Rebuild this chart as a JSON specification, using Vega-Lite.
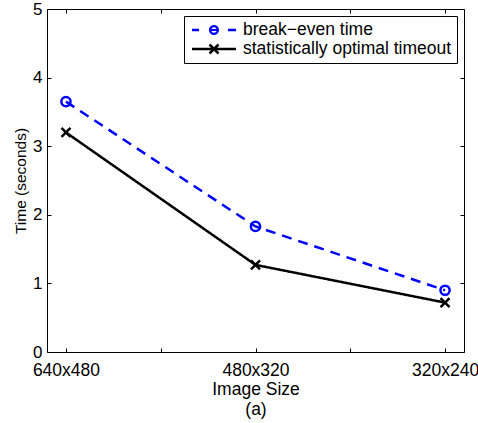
{
  "$schema": "https://vega.github.io/schema/vega-lite/v6.json",
  "autosize": "none",
  "width": 417,
  "height": 343,
  "padding": {"left": 47, "top": 9, "right": 14, "bottom": 71},
  "background": "white",
  "config": {
    "view": {"stroke": "#000", "strokeWidth": 1},
    "font": "Liberation Sans",
    "axis": {
      "domain": false,
      "grid": false,
      "ticks": true,
      "tickSize": -4,
      "tickColor": "#000",
      "tickWidth": 1,
      "labelColor": "#000",
      "labelFont": "Liberation Sans",
      "labelFontSize": 17,
      "titleFont": "Liberation Sans",
      "titleColor": "#000",
      "titleFontWeight": "normal"
    }
  },
  "data": {
    "values": [
      {"size": "640x480", "idx": 1, "series": "break-even time", "time": 3.65},
      {"size": "480x320", "idx": 2, "series": "break-even time", "time": 1.83},
      {"size": "320x240", "idx": 3, "series": "break-even time", "time": 0.9},
      {"size": "640x480", "idx": 1, "series": "statistically optimal timeout", "time": 3.2},
      {"size": "480x320", "idx": 2, "series": "statistically optimal timeout", "time": 1.27},
      {"size": "320x240", "idx": 3, "series": "statistically optimal timeout", "time": 0.72}
    ]
  },
  "resolve": {"axis": {"x": "independent", "y": "independent"}},
  "layer": [
    {
      "mark": {"type": "line", "strokeWidth": 2.5},
      "encoding": {
        "x": {
          "field": "idx", "type": "quantitative",
          "scale": {"domain": [0.9, 3.1], "nice": false, "zero": false},
          "axis": {
            "orient": "bottom",
            "values": [1, 1.5, 2, 2.5, 3],
            "labelExpr": "datum.value == 1 ? '640x480' : datum.value == 2 ? '480x320' : datum.value == 3 ? '320x240' : ''",
            "labelFontSize": 17.5,
            "labelPadding": 13,
            "labelFlush": false,
            "labelOverlap": false,
            "title": ["Image Size", "(a)"],
            "titleFontSize": 17.5,
            "titleLineHeight": 20,
            "titlePadding": 2
          }
        },
        "y": {
          "field": "time", "type": "quantitative",
          "scale": {"domain": [0, 5], "nice": false, "zero": true},
          "axis": {
            "orient": "left",
            "values": [0, 1, 2, 3, 4, 5],
            "labelPadding": 9,
            "labelFlush": false,
            "title": "Time (seconds)",
            "titleFontSize": 15.5,
            "titlePadding": 4
          }
        },
        "color": {
          "field": "series", "type": "nominal",
          "scale": {"domain": ["break-even time", "statistically optimal timeout"], "range": ["#0000ff", "#000000"]},
          "legend": {
            "title": null,
            "orient": "top-right",
            "offset": 7,
            "padding": 5,
            "strokeColor": "#000",
            "fillColor": "#fff",
            "labelFont": "Liberation Sans",
            "labelFontSize": 17.5,
            "labelColor": "#000",
            "labelLimit": 0,
            "labelOffset": 36,
            "labelExpr": "replace(datum.label, 'break-even', 'break\u2212even')",
            "symbolSize": 324,
            "rowPadding": 1,
            "encode": {
              "symbols": {
                "update": {
                  "shape": {"signal": "datum.value === 'break-even time' ? 'M-0.667,-0.139H0.111V0.139H-0.667Z M3.333,-0.139H4.222V0.139H3.333Z M1.221,0A0.556,0.556 0 1,1 2.333,0A0.556,0.556 0 1,1 1.221,0Z M1.466,0A0.311,0.311 0 1,0 2.088,0A0.311,0.311 0 1,0 1.466,0Z M1.466,-0.122H2.088V0.122H1.466Z' : 'M-0.667,-0.139H4.222V0.139H-0.667Z M1.375,-0.598L2.375,0.402L2.179,0.598L1.179,-0.402Z M1.179,0.402L2.179,-0.598L2.375,-0.402L1.375,0.598Z'"},
                  "fill": {"signal": "datum.value === 'break-even time' ? '#0000ff' : '#000000'"},
                  "fillOpacity": {"value": 1},
                  "opacity": {"value": 1},
                  "stroke": {"value": "transparent"},
                  "strokeWidth": {"value": 0}
                }
              }
            }
          }
        },
        "strokeDash": {
          "field": "series", "type": "nominal",
          "scale": {"domain": ["break-even time", "statistically optimal timeout"], "range": [[10, 7], [1, 0]]},
          "legend": null
        }
      }
    },
    {
      "transform": [{"filter": "datum.series === 'break-even time'"}],
      "mark": {"type": "point", "shape": "circle", "filled": false, "size": 85, "strokeWidth": 2.5, "color": "#0000ff", "opacity": 1},
      "encoding": {
        "x": {
          "field": "idx", "type": "quantitative",
          "axis": {"orient": "top", "values": [1, 1.5, 2, 2.5, 3], "labels": false, "title": null}
        },
        "y": {
          "field": "time", "type": "quantitative",
          "axis": {"orient": "right", "values": [0, 1, 2, 3, 4, 5], "labels": false, "title": null}
        }
      }
    },
    {
      "transform": [{"filter": "datum.series === 'statistically optimal timeout'"}],
      "mark": {"type": "point", "shape": "M-1,-1L1,1M-1,1L1,-1", "filled": false, "size": 81, "strokeWidth": 2.5, "color": "#000000", "opacity": 1},
      "encoding": {
        "x": {"field": "idx", "type": "quantitative", "axis": null},
        "y": {"field": "time", "type": "quantitative", "axis": null}
      }
    }
  ]
}
